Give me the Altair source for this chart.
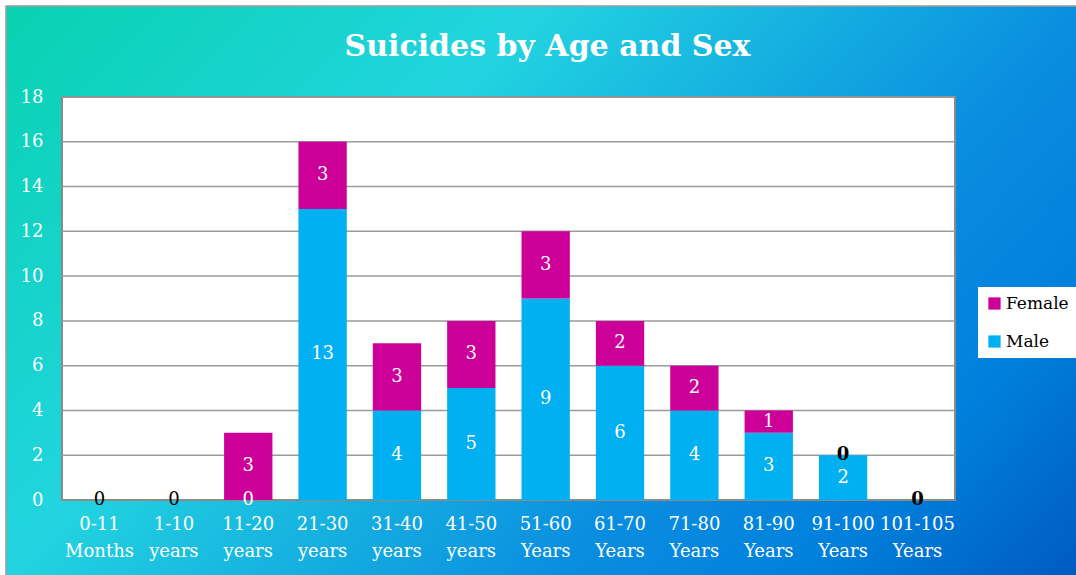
import altair as alt
import pandas as pd

categories = ["0-11\nMonths", "1-10\nyears", "11-20\nyears", "21-30\nyears", "31-40\nyears",
              "41-50\nyears", "51-60\nYears", "61-70\nYears", "71-80\nYears", "81-90\nYears",
              "91-100\nYears", "101-105\nYears"]
male = [0, 0, 0, 13, 4, 5, 9, 6, 4, 3, 2, 0]
female = [0, 0, 3, 3, 3, 3, 3, 2, 2, 1, 0, 0]
y_ticks = [0, 2, 4, 6, 8, 10, 12, 14, 16, 18]

W, H = 893, 403
PAD_L, PAD_T, PAD_R, PAD_B = 62, 97, 121, 75

rows = []
for i, c in enumerate(categories):
    rows.append({"cat": c, "sex": "Male", "value": male[i], "ord": 0})
    rows.append({"cat": c, "sex": "Female", "value": female[i], "ord": 1})
bars_df = pd.DataFrame(rows)

# value labels (style chosen per label as in the reference)
lab = []
for i, c in enumerate(categories):
    m, f = male[i], female[i]
    if m == 0 and f == 0:
        lab.append({"cat": c, "pos": 0, "text": "0", "style": "black" if i < 2 else "bold"})
        continue
    lab.append({"cat": c, "pos": m / 2, "text": str(m), "style": "white"})
    if f > 0:
        lab.append({"cat": c, "pos": m + f / 2, "text": str(f), "style": "white"})
    else:
        lab.append({"cat": c, "pos": m, "text": "0", "style": "bold"})
lab_df = pd.DataFrame(lab)
grid_df = pd.DataFrame({"v": y_ticks[1:]})

FONT = "DejaVu Serif"

xscale = alt.Scale(domain=categories, paddingInner=0.35, paddingOuter=0.18)
yscale = alt.Scale(domain=[0, 18], nice=False)

gradient = alt.LinearGradient(
    gradient="linear", x1=0, y1=0, x2=1.2, y2=0.6,
    stops=[alt.GradientStop(color="#08d2b0", offset=0),
           alt.GradientStop(color="#22d4e0", offset=0.33),
           alt.GradientStop(color="#0a8ee0", offset=0.67),
           alt.GradientStop(color="#0080dc", offset=0.83),
           alt.GradientStop(color="#005abf", offset=1)])

bg = alt.Chart(alt.Data(values=[{"a": 1}])).mark_rect(
    color=gradient, stroke="#9a9a9a", strokeWidth=1.5
).encode(x=alt.value(6 - PAD_L), x2=alt.value(1080 - PAD_L),
         y=alt.value(6 - PAD_T), y2=alt.value(578 - PAD_T))

plot_bg = alt.Chart(alt.Data(values=[{"a": 1}])).mark_rect(
    fill="white", stroke="#8a8a8a", strokeWidth=2
).encode(x=alt.value(0), x2=alt.value(W), y=alt.value(0), y2=alt.value(H))

grid = alt.Chart(grid_df).mark_rule(color="#9a9a9a", strokeWidth=1.5).encode(
    y=alt.Y("v:Q", scale=yscale),
    x=alt.value(0), x2=alt.value(W))

bars = alt.Chart(bars_df).mark_bar().encode(
    x=alt.X("cat:N", scale=xscale, sort=categories,
            axis=alt.Axis(title=None, labelExpr="split(datum.label, '\\n')",
                          labelAngle=0, ticks=False, domain=False, labelColor="white",
                          labelFont=FONT, labelFontSize=18, labelLineHeight=27,
                          labelPadding=29, labelBaseline="alphabetic", zindex=1)),
    y=alt.Y("value:Q", stack="zero", scale=yscale,
            axis=alt.Axis(title=None, values=y_ticks, grid=False, ticks=False, domain=False,
                          labelColor="white", labelFont=FONT, labelFontSize=18,
                          labelPadding=19, zindex=1)),
    color=alt.Color("sex:N", scale=alt.Scale(domain=["Female", "Male"], range=["#cc0099", "#00b0f0"]),
                    legend=alt.Legend(title=None, orient="none", legendX=916, legendY=190,
                                      fillColor="white", padding=8, labelFont=FONT,
                                      labelFontSize=17, labelColor="black", symbolType="square",
                                      symbolSize=150, symbolStrokeWidth=0, rowPadding=20,
                                      labelOffset=3, symbolOpacity=1, zindex=1)),
    order=alt.Order("ord:Q"),
)

def labels(style, color, weight):
    return alt.Chart(lab_df).transform_filter(alt.datum.style == style).mark_text(
        font=FONT, fontSize=18, color=color, fontWeight=weight, baseline="middle"
    ).encode(x=alt.X("cat:N", scale=xscale, sort=categories),
             y=alt.Y("pos:Q", scale=yscale),
             text="text:N")

chart = alt.layer(
    bg, plot_bg, grid, bars,
    labels("white", "white", "normal"),
    labels("black", "black", "normal"),
    labels("bold", "black", "bold"),
).properties(
    width=W, height=H,
    title=alt.TitleParams("Suicides by Age and Sex", font=FONT, fontSize=30, fontWeight="bold",
                          color="white", anchor="middle", frame="group", baseline="alphabetic",
                          offset=-81, dx=39, zindex=1),
    autosize=alt.AutoSizeParams(type="none"),
    padding={"left": PAD_L, "top": PAD_T, "right": PAD_R, "bottom": PAD_B},
).configure_view(stroke=None).configure(background="white")

chart.save("out.html", embed_options={"renderer": "svg", "actions": False})
